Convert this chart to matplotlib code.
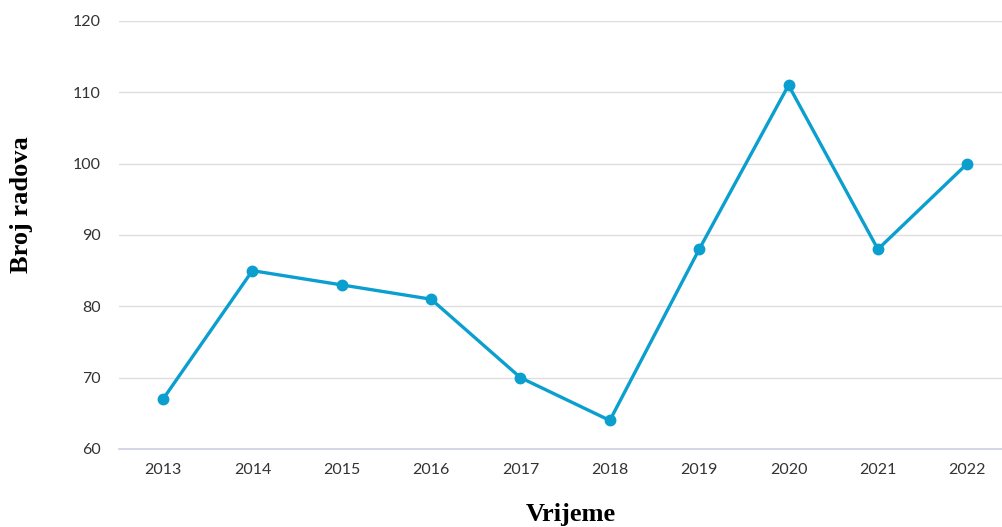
import matplotlib.pyplot as plt

years = [2013, 2014, 2015, 2016, 2017, 2018, 2019, 2020, 2021, 2022]
papers = [67, 85, 83, 81, 70, 64, 88, 111, 88, 100]
y_ticks = [60, 70, 80, 90, 100, 110, 120]

line_color = '#0b9fcf'

fig = plt.figure(figsize=(10.03, 5.27), dpi=100)
ax = fig.add_axes([119 / 1003, 1 - 449 / 527, (1003 - 119) / 1003, (449 - 21) / 527])

ax.plot(years, papers, color=line_color, linewidth=2.4, marker='o', markersize=7.5, zorder=3)

ax.set_xlim(2012.507, 2022.40)
ax.set_ylim(60, 120)
ax.set_xticks(years)
ax.set_yticks(y_ticks)

# light horizontal grid only
ax.grid(axis='y', color='#dedede', linewidth=1)
ax.set_axisbelow(True)
for side in ['top', 'right', 'left']:
    ax.spines[side].set_visible(False)
ax.spines['bottom'].set_color('#ccd0e0')
ax.spines['bottom'].set_linewidth(1.2)

ax.tick_params(axis='both', length=0, labelsize=11.5, colors='#333333')
ax.tick_params(axis='x', pad=10)
ax.tick_params(axis='y', pad=13)
for lbl in ax.get_xticklabels() + ax.get_yticklabels():
    lbl.set_fontfamily('Lato')

fig.text(571 / 1003, 1 - 515 / 527, 'Vrijeme', ha='center', va='center',
         family='Liberation Serif', fontweight='bold', fontsize=19, color='black')
fig.text(22 / 1003, 1 - 205 / 527, 'Broj radova', ha='center', va='center', rotation=90,
         family='Liberation Serif', fontweight='bold', fontsize=19, color='black')

fig.savefig('out.png', dpi=100)
